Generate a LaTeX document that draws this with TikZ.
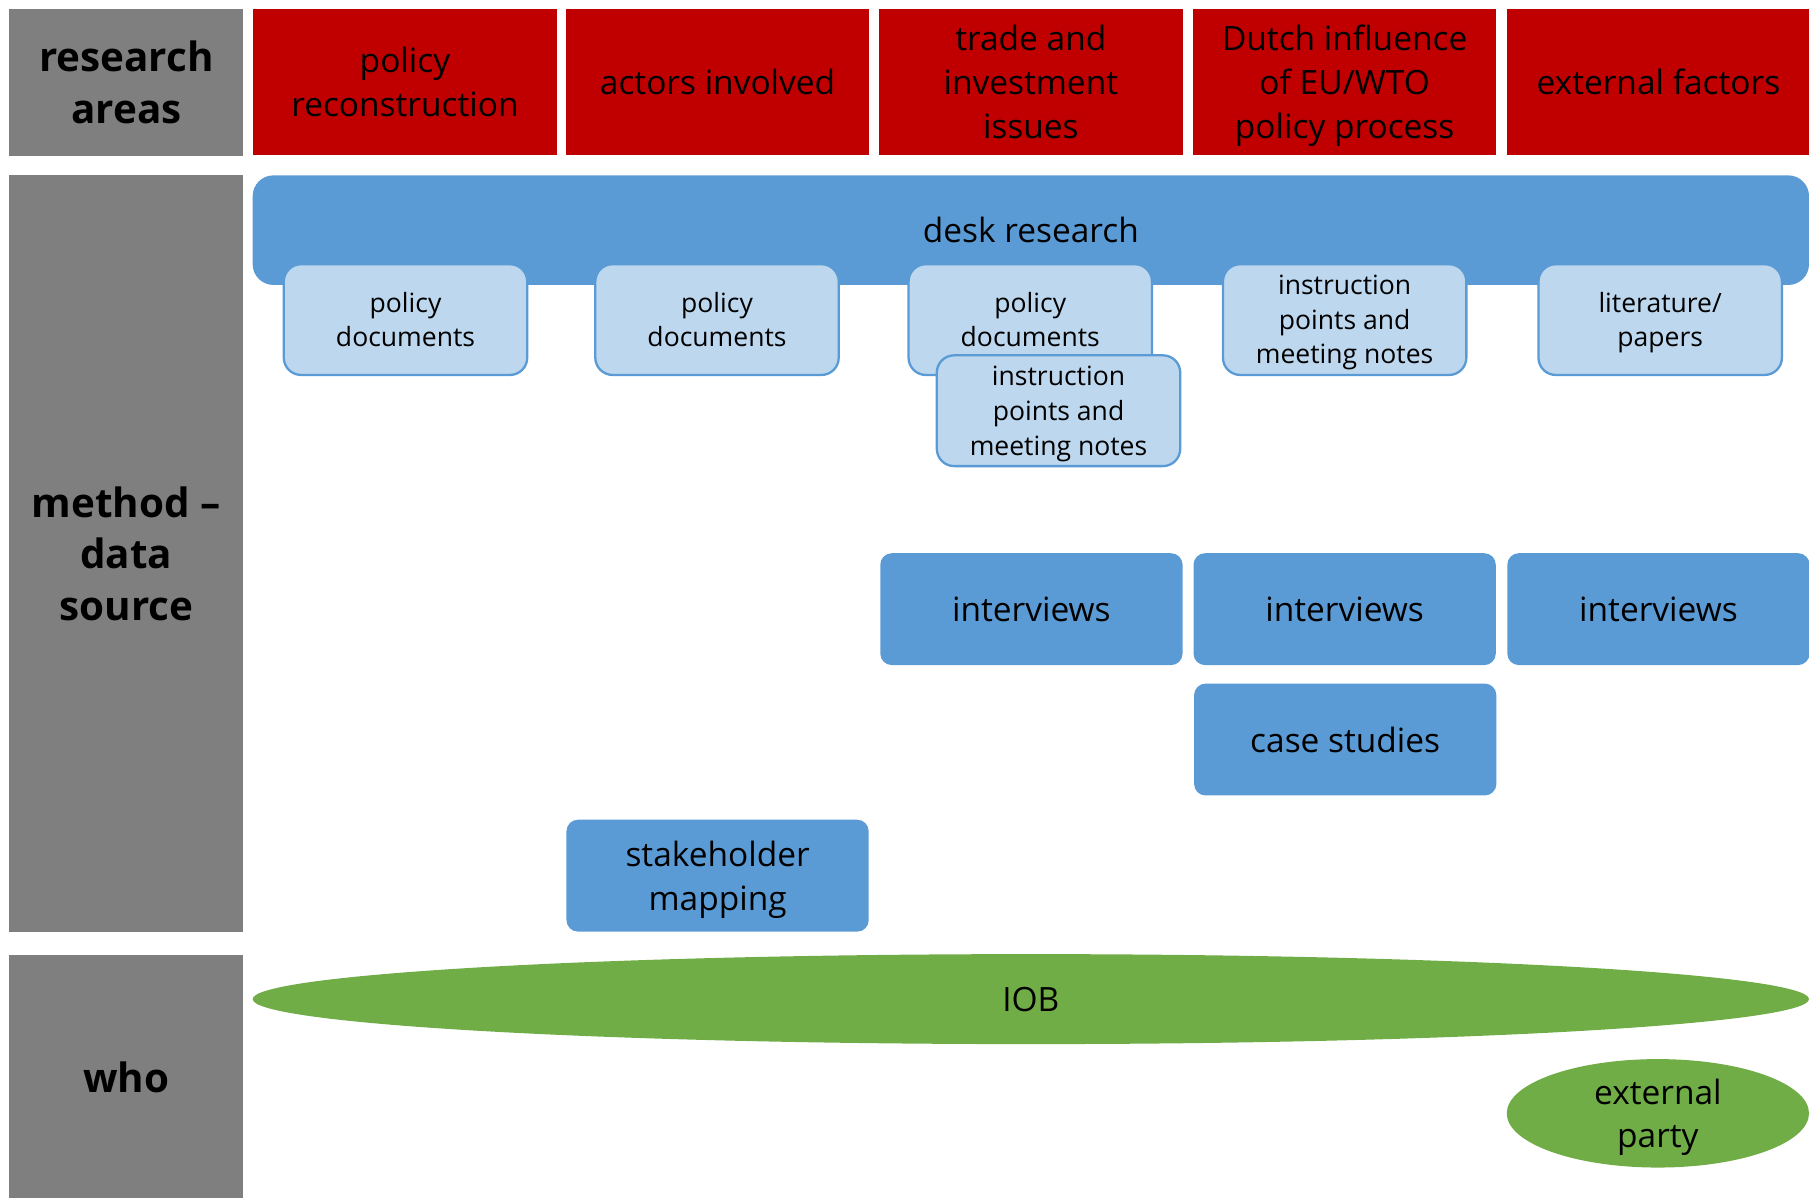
\documentclass[tikz,border=0pt]{standalone}
\usepackage{fontspec}
\setmainfont{Open Sans}
\usetikzlibrary{shapes.geometric}
\definecolor{areared}{HTML}{C00000}
\definecolor{headgray}{HTML}{7F7F7F}
\definecolor{methblue}{HTML}{5B9BD5}
\definecolor{srcblue}{HTML}{BDD7EE}
\definecolor{whogreen}{HTML}{70AD47}

\begin{document}
\begin{tikzpicture}[x=0.5pt,y=-0.5pt,
	headbox/.style={fill=headgray,inner sep=0,align=center,font=\bfseries\fontsize{17.5}{22.5}\selectfont},
	areabox/.style={fill=areared,inner sep=0,text depth=0pt,minimum width=131.5pt,minimum height=63pt,align=center,font=\fontsize{14.5}{19}\selectfont},
	srcbox/.style={fill=srcblue,draw=methblue,line width=1pt,rounded corners=7.5pt,inner sep=0,text depth=0pt,minimum width=105.5pt,minimum height=48pt,align=center,font=\fontsize{11.5}{15}\selectfont},
	methbox/.style={fill=methblue,rounded corners=5pt,inner sep=0,text depth=0pt,minimum width=131pt,minimum height=48.5pt,align=center,font=\fontsize{14.5}{19}\selectfont},
	whoell/.style={ellipse,fill=whogreen,inner sep=0,text depth=0pt,align=center,font=\fontsize{14.5}{19}\selectfont}]
	\clip (0,0) rectangle (1568,1038);
	% left column
	\node[headbox,minimum width=101.5pt,minimum height=63.5pt] (hareas) at (109.5,71.5) {research\\areas};
	\node[headbox,minimum width=101.5pt,minimum height=328pt] (hmethod) at (109.5,480) {method --\\data\\source};
	\node[headbox,minimum width=101.5pt,minimum height=106pt] (hwho) at (109.5,934) {who};
	% research areas
	\node[areabox] (apolicy) at (351,71) {policy\\reconstruction};
	\node[areabox] (aactors) at (622,71) {actors involved};
	\node[areabox] (atrade) at (893.5,71) {trade and\\investment\\issues};
	\node[areabox] (adutch) at (1165.5,71) {Dutch influence\\of EU/WTO\\policy process};
	\node[areabox] (aextern) at (1437.5,71) {external factors};
	% desk research
	\node[methbox,rounded corners=9pt,minimum width=674.5pt,minimum height=47.5pt] (desk) at (893.5,199.5) {desk research};
	\node[srcbox] (docsa) at (351.5,277) {policy\\documents};
	\node[srcbox] (docsb) at (621.5,277) {policy\\documents};
	\node[srcbox] (docsc) at (893,277) {policy\\documents};
	\node[srcbox] (notesc) at (917.5,356) {instruction\\points and\\meeting notes};
	\node[srcbox] (notesd) at (1165.5,277) {instruction\\points and\\meeting notes};
	\node[srcbox] (papers) at (1439,277) {literature/\\papers};
	% other methods
	\node[methbox] (intc) at (894,528) {interviews};
	\node[methbox] (intd) at (1165.5,528) {interviews};
	\node[methbox] (inte) at (1437.5,528) {interviews};
	\node[methbox] (cases) at (1166,641) {case studies};
	\node[methbox] (stake) at (622,759) {stakeholder\\mapping};
	% who
	\node[whoell,minimum width=674.5pt,minimum height=39pt] (iob) at (893.5,866) {IOB};
	\node[whoell,minimum width=131pt,minimum height=47pt] (extparty) at (1437,965) {external\\party};
\end{tikzpicture}
\end{document}
